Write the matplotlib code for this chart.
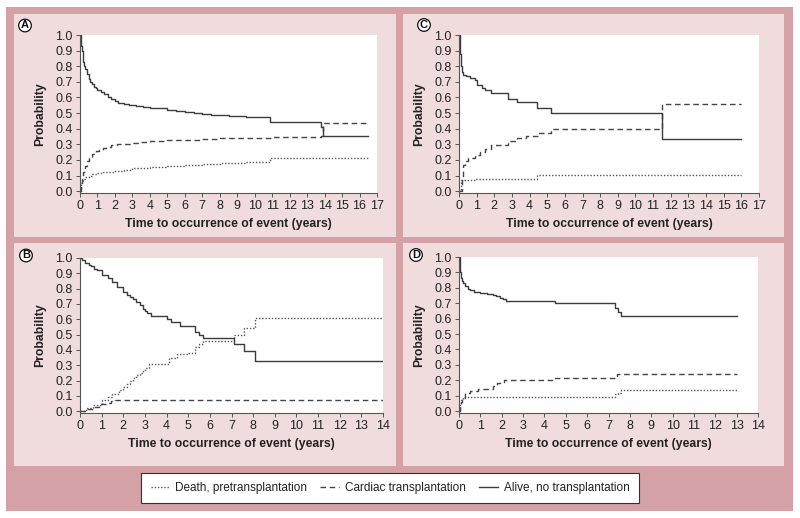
import matplotlib
matplotlib.use("Agg")
import matplotlib.pyplot as plt
from matplotlib.patches import Rectangle
from matplotlib.lines import Line2D

plt.rcParams['font.family'] = ['Liberation Sans', 'DejaVu Sans']

# ---------------- data ----------------
series_names = ["Death, pretransplantation", "Cardiac transplantation", "Alive, no transplantation"]

# Panel A
a_alive_t = [0, 0.03, 0.06, 0.1, 0.15, 0.2, 0.25, 0.3, 0.4, 0.5, 0.6, 0.7, 0.8, 0.9, 1.0, 1.2, 1.4, 1.6, 1.8, 2.0,
             2.2, 2.5, 2.8, 3.2, 3.6, 4.0, 4.5, 5.0, 5.5, 6.0, 6.5, 7.0, 7.5, 8.0, 8.5, 9.0, 9.5, 10.0, 10.85,
             13.8, 13.9, 16.5]
a_alive_v = [1.0, 0.96, 0.93, 0.90, 0.86, 0.83, 0.80, 0.78, 0.75, 0.72, 0.70, 0.685, 0.67, 0.66, 0.65, 0.635,
             0.62, 0.605, 0.59, 0.575, 0.565, 0.557, 0.55, 0.545, 0.54, 0.535, 0.53, 0.52, 0.513, 0.505, 0.50,
             0.495, 0.49, 0.488, 0.484, 0.48, 0.477, 0.474, 0.445, 0.41, 0.355, 0.355]
a_tx_t = [0, 0.03, 0.06, 0.1, 0.15, 0.2, 0.3, 0.4, 0.5, 0.7, 0.9, 1.1, 1.3, 1.5, 1.8, 2.1, 2.5, 3.0, 3.5, 4.0,
          5.0, 6.0, 7.0, 8.0, 9.0, 10.0, 11.0, 12.0, 13.0, 13.8, 13.9, 16.5]
a_tx_v = [0, 0.03, 0.05, 0.075, 0.10, 0.125, 0.16, 0.19, 0.215, 0.24, 0.255, 0.265, 0.275, 0.285, 0.295, 0.30,
          0.305, 0.31, 0.315, 0.318, 0.325, 0.33, 0.335, 0.338, 0.34, 0.343, 0.345, 0.347, 0.348, 0.35, 0.435,
          0.435]
a_death_t = [0, 0.03, 0.06, 0.1, 0.2, 0.3, 0.5, 0.7, 1.0, 1.3, 1.6, 2.0, 2.5, 3.0, 3.5, 4.0, 5.0, 6.0, 7.0, 8.0,
             9.0, 9.5, 10.85, 16.5]
a_death_v = [0, 0.02, 0.045, 0.06, 0.075, 0.09, 0.10, 0.108, 0.115, 0.12, 0.125, 0.13, 0.138, 0.145, 0.15,
             0.155, 0.163, 0.168, 0.175, 0.18, 0.183, 0.187, 0.215, 0.215]

# Panel B
b_alive_t = [0, 0.1, 0.25, 0.4, 0.5, 0.65, 0.8, 1.0, 1.3, 1.5, 1.7, 2.0, 2.15, 2.3, 2.45, 2.6, 2.75, 2.9, 3.0,
             3.1, 3.3, 4.0, 4.2, 4.6, 5.3, 5.5, 5.7, 7.1, 7.6, 8.1, 14]
b_alive_v = [1.0, 0.985, 0.97, 0.955, 0.945, 0.93, 0.92, 0.89, 0.87, 0.845, 0.81, 0.78, 0.76, 0.745, 0.73, 0.71,
             0.69, 0.67, 0.655, 0.64, 0.62, 0.60, 0.58, 0.555, 0.52, 0.495, 0.475, 0.44, 0.39, 0.325, 0.325]
b_tx_t = [0, 0.3, 0.6, 0.9, 1.2, 1.45, 1.6, 14]
b_tx_v = [0, 0.015, 0.03, 0.045, 0.055, 0.065, 0.075, 0.075]
b_death_t = [0, 0.3, 0.6, 1.0, 1.3, 1.5, 1.8, 2.0, 2.15, 2.3, 2.45, 2.6, 2.75, 2.9, 3.0, 3.2, 3.9, 4.1, 4.5,
             5.0, 5.3, 5.5, 5.7, 7.1, 7.6, 8.1, 14]
b_death_v = [0, 0.02, 0.04, 0.07, 0.09, 0.11, 0.14, 0.16, 0.18, 0.20, 0.215, 0.235, 0.25, 0.27, 0.285, 0.305,
             0.31, 0.35, 0.37, 0.38, 0.42, 0.44, 0.46, 0.495, 0.54, 0.605, 0.605]

# Panel C
c_alive_t = [0, 0.04, 0.08, 0.12, 0.16, 0.25, 0.4, 0.6, 0.9, 1.0, 1.3, 1.5, 1.8, 2.75, 3.3, 4.4, 5.2, 11.5, 16]
c_alive_v = [1.0, 0.95, 0.88, 0.80, 0.76, 0.745, 0.735, 0.725, 0.71, 0.68, 0.66, 0.645, 0.63, 0.59, 0.57, 0.53,
             0.50, 0.335, 0.335]
c_tx_t = [0, 0.15, 0.2, 0.35, 0.5, 0.9, 1.2, 1.5, 1.8, 2.8, 3.3, 3.8, 4.5, 5.2, 11.5, 16]
c_tx_v = [0, 0.07, 0.17, 0.19, 0.21, 0.23, 0.25, 0.27, 0.295, 0.32, 0.34, 0.35, 0.37, 0.40, 0.56, 0.56]
c_death_t = [0, 0.1, 0.9, 4.4, 16]
c_death_v = [0, 0.07, 0.08, 0.105, 0.105]

# Panel D
d_alive_t = [0, 0.03, 0.06, 0.1, 0.15, 0.2, 0.3, 0.4, 0.5, 0.7, 1.0, 1.3, 1.6, 1.75, 1.9, 2.05, 2.2, 4.5, 7.3,
             7.45, 7.6, 13]
d_alive_v = [1.0, 0.95, 0.9, 0.865, 0.845, 0.83, 0.81, 0.795, 0.785, 0.775, 0.765, 0.76, 0.755, 0.745, 0.735,
             0.725, 0.712, 0.70, 0.67, 0.645, 0.62, 0.62]
d_tx_t = [0, 0.03, 0.08, 0.15, 0.3, 0.5, 0.9, 1.6, 1.8, 2.1, 2.4, 4.5, 7.4, 13]
d_tx_v = [0, 0.04, 0.06, 0.085, 0.115, 0.13, 0.145, 0.16, 0.18, 0.20, 0.205, 0.215, 0.24, 0.24]
d_death_t = [0, 0.05, 0.1, 0.2, 7.3, 7.45, 7.6, 13]
d_death_v = [0, 0.05, 0.07, 0.09, 0.11, 0.12, 0.14, 0.14]

y_ticks = [0.0, 0.1, 0.2, 0.3, 0.4, 0.5, 0.6, 0.7, 0.8, 0.9, 1.0]
x_max = {"A": 17, "B": 14, "C": 17, "D": 14}

# ---------------- figure ----------------
W, H = 800, 518
fig = plt.figure(figsize=(W / 100, H / 100), dpi=100)
fig.patch.set_facecolor("white")

dark_pink = "#d4a1a6"
light_pink = "#f0dcdc"
line_col = "#3c3c3c"


def frect(x0, y0, x1, y1, **kw):
    r = Rectangle((x0 / W, 1 - y1 / H), (x1 - x0) / W, (y1 - y0) / H, transform=fig.transFigure, **kw)
    fig.add_artist(r)
    return r


frect(6, 7, 793, 511, facecolor=dark_pink, edgecolor="none", zorder=-2)
panels = {"A": (14, 14, 396, 237), "C": (403, 14, 784, 237),
          "B": (14, 243, 396, 466), "D": (403, 243, 784, 466)}
for k, (x0, y0, x1, y1) in panels.items():
    frect(x0, y0, x1, y1, facecolor=light_pink, edgecolor="none", zorder=-1)

axes_px = {"A": (80, 35, 377, 193), "C": (459, 35, 759, 193),
           "B": (80, 258, 383, 413), "D": (459, 257, 758, 413)}
letter_pos = {"A": (25, 25.5), "C": (424, 25), "B": (26, 255.5), "D": (416, 255)}

data = {
    "A": [(a_death_t, a_death_v), (a_tx_t, a_tx_v), (a_alive_t, a_alive_v)],
    "B": [(b_death_t, b_death_v), (b_tx_t, b_tx_v), (b_alive_t, b_alive_v)],
    "C": [(c_death_t, c_death_v), (c_tx_t, c_tx_v), (c_alive_t, c_alive_v)],
    "D": [(d_death_t, d_death_v), (d_tx_t, d_tx_v), (d_alive_t, d_alive_v)],
}
styles = [dict(linestyle=(0, (1, 1.3)), color="#555555", lw=1.0),
          dict(linestyle=(0, (4, 2.6)), color="#444444", lw=1.0),
          dict(linestyle="-", color=line_col, lw=1.0)]

spine_col = "#555555"
for k, (x0, y0, x1, y1) in axes_px.items():
    ax = fig.add_axes([x0 / W, 1 - y1 / H, (x1 - x0) / W, (y1 - y0) / H])
    ax.set_zorder(2)
    ax.set_facecolor("white")
    for (t, v), st in zip(data[k], styles):
        ax.step(t, v, where="post", **st)
    ax.set_xlim(0, x_max[k])
    ax.set_ylim(-0.012, 1.0)
    ax.set_xticks(range(0, x_max[k] + 1))
    ax.set_yticks(y_ticks)
    ax.set_yticklabels([f"{y:.1f}" for y in y_ticks])
    for s in ["top", "right"]:
        ax.spines[s].set_visible(False)
    for s in ["left", "bottom"]:
        ax.spines[s].set_color(spine_col)
        ax.spines[s].set_linewidth(0.8)
    ax.tick_params(axis="both", length=3, width=0.7, color=spine_col, labelsize=9,
                   labelcolor="#222222", pad=2.3)
    ax.set_xlabel("Time to occurrence of event (years)", fontsize=8.8, fontweight="bold", color="#222222")
    ax.set_ylabel("Probability", fontsize=8.8, fontweight="bold", color="#222222")
    wpx = x1 - x0
    hpx = y1 - y0
    ax.xaxis.label.set_va("center")
    ax.yaxis.label.set_va("center")
    ax.xaxis.set_label_coords(0.5, -31 / hpx)
    ax.yaxis.set_label_coords(-40 / wpx, 0.5)
    lx, ly = letter_pos[k]
    fig.text(lx / W, 1 - ly / H, k, ha="center", va="center", fontsize=8, fontweight="bold",
             color="#111111", zorder=3,
             bbox=dict(boxstyle="circle,pad=0.12", facecolor="white", edgecolor="#111111", linewidth=0.9))

handles = [Line2D([], [], **st) for st in styles]
leg = fig.legend(handles, series_names, loc="center", bbox_to_anchor=(390 / W, 1 - 488 / H), ncol=3,
                 frameon=True, fancybox=False, fontsize=8.5, handlelength=1.6, handletextpad=0.5,
                 columnspacing=1.1, borderpad=0.8, borderaxespad=0)
leg.set_zorder(3)
leg.get_frame().set_edgecolor("#333333")
leg.get_frame().set_linewidth(0.8)
leg.get_frame().set_facecolor("white")
leg.get_frame().set_alpha(1.0)
for txt in leg.get_texts():
    txt.set_color("#222222")

fig.savefig("out.png", dpi=100, facecolor="white")
